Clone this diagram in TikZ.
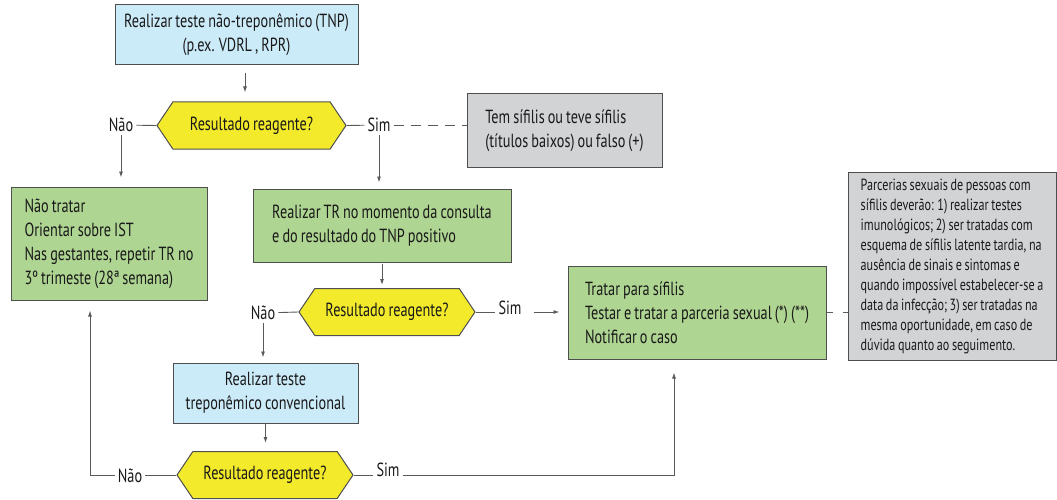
\documentclass[tikz,border=0pt]{standalone}
\usepackage{fontspec}
\setmainfont{PT Sans}[FakeStretch=0.75, WordSpace=0.8]
\usepackage{tikz}
\usetikzlibrary{arrows.meta,shapes.symbols}
\definecolor{boxblue}{HTML}{CCEBF9}
\definecolor{boxgreen}{HTML}{AFD592}
\definecolor{boxyellow}{HTML}{F3EA2C}
\definecolor{boxgray}{HTML}{D2D3D5}
\definecolor{edgegray}{HTML}{4F4F4F}
\definecolor{linegray}{HTML}{5A5A5A}

\begin{document}
\begin{tikzpicture}[x=1pt, y=-1pt,
    every node/.style={font=\fontsize{19}{24}\selectfont, text=black!90},
    flowbox/.style={rectangle, draw=edgegray, line width=1pt, inner sep=0pt},
    flowline/.style={draw=linegray, line width=0.9pt},
    flowarrow/.style={flowline, -{Latex[length=6pt, width=4pt]}}]
    \useasboundingbox (0,0) rectangle (1057,500);

    %Nodes
    \begin{scope}[every node/.append style={flowbox, fill=boxblue, align=center}]
    \node (tnp_test)  [minimum width=243pt, minimum height=60pt] at (236.5,35) {Realizar teste não-treponêmico (TNP)\\(p.ex. VDRL , RPR)};
    \node (trep_test) [minimum width=185pt, minimum height=60pt] at (265.5,393) {Realizar teste\\treponêmico convencional};
    \end{scope}

    \begin{scope}[every node/.append style={flowbox, fill=boxgreen, align=left}]
    \node (no_treat)   [minimum width=196pt, minimum height=113pt] at (109,243.5) {Não tratar\\Orientar sobre IST\\Nas gestantes, repetir TR no\\3º trimeste (28ª semana)};
    \node (rapid_test) [minimum width=258pt, minimum height=73pt]  at (382,225.5) {Realizar TR no momento da consulta\\e do resultado do TNP positivo};
    \node (treat)      [minimum width=258pt, minimum height=93pt]  at (697,312.5) {Tratar para sífilis\\Testar e tratar a parceria sexual (*) (**)\\Notificar o caso};
    \end{scope}

    \begin{scope}[every node/.append style={flowbox, fill=boxgray, align=left}]
    \node (false_pos)    [minimum width=195pt, minimum height=73pt] at (564.5,130.5) {Tem sífilis ou teve sífilis\\(títulos baixos) ou falso (+)};
    \node (partner_note) [minimum width=208pt, minimum height=188pt, font=\fontsize{16.2}{20}\selectfont] at (952,266) {Parcerias sexuais de pessoas com\\sífilis deverão: 1) realizar testes\\imunológicos; 2) ser tratadas com\\esquema de sífilis latente tardia, na\\ausência de sinais e sintomas e\\quando impossível estabelecer-se a\\data da infecção; 3) ser tratadas na\\mesma oportunidade, em caso de\\dúvida quanto ao seguimento.};
    \end{scope}

    \begin{scope}[every node/.append style={signal, signal to=west and east, signal pointer angle=112, draw=edgegray, line width=1pt, fill=boxyellow, inner sep=0pt, minimum height=47pt}]
    \node (result_tnp)  [minimum width=189pt] at (251.5,125.5) {Resultado reagente?};
    \node (result_tr)   [minimum width=176pt] at (387,312)     {Resultado reagente?};
    \node (result_trep) [minimum width=176pt] at (265,475)     {Resultado reagente?};
    \end{scope}

    % Answer labels
    \begin{scope}[every node/.append style={inner sep=3pt}]
    \node (no_tnp)   at (121,125) {Não};
    \node (yes_tnp)  at (379,125) {Sim};
    \node (no_tr)    at (263,313) {Não};
    \node (yes_tr)   at (510,308) {Sim};
    \node (no_trep)  at (130,476) {Não};
    \node (yes_trep) at (388,470) {Sim};
    \end{scope}

    %Lines
    \draw[flowarrow, shorten <=8pt, shorten >=9pt] ([xshift=8.5pt]tnp_test.south) -- ([xshift=-6.5pt]result_tnp.north);
    \draw[flowline] (no_tnp) -- (result_tnp.west);
    \draw[flowarrow, shorten >=9pt] (no_tnp.south) -- (no_tnp.south |- no_treat.north);
    \draw[flowline] (result_tnp.east) -- (yes_tnp);
    \draw[flowline, dash pattern=on 10pt off 7pt] (yes_tnp.east) -- (yes_tnp.east -| false_pos.west);
    \draw[flowarrow, shorten >=6pt] (yes_tnp.south) -- (yes_tnp.south |- rapid_test.north);

    \draw[flowarrow, shorten <=1pt, shorten >=3pt] (rapid_test.south) -- (rapid_test.south |- result_tr.north);
    \draw[flowline] (no_tr) -- (result_tr.west);
    \draw[flowarrow, shorten >=5pt] (no_tr.south) -- (no_tr.south |- trep_test.north);
    \draw[flowline] (result_tr.east) -- (yes_tr.west |- result_tr.east);
    \draw[flowarrow, shorten <=9pt, shorten >=8pt] (yes_tr.east |- result_tr.east) -- (treat.west |- result_tr.east);
    \draw[flowline, dash pattern=on 6pt off 10pt] (treat.east) -- (treat.east -| partner_note.west);

    \draw[flowarrow, shorten >=8pt] (trep_test.south) -- (trep_test.south |- result_trep.north);
    \draw[flowline] (result_trep.west) -- (no_trep.east |- result_trep.west);
    \draw[flowarrow, shorten >=10pt] (no_trep.west |- result_trep.west) -| ([xshift=-19pt]no_treat.south);
    \draw[flowline] (result_trep.east) -- (yes_trep.west |- result_trep.east);
    \draw[flowarrow, shorten >=13pt] (yes_trep.east |- result_trep.east) -| ([xshift=-23pt]treat.south);
\end{tikzpicture}
\end{document}
